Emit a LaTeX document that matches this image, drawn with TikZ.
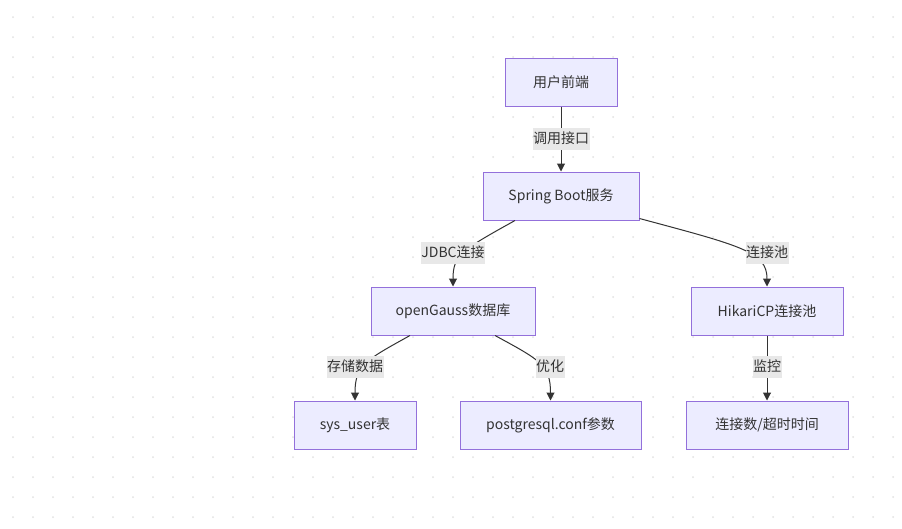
\documentclass[tikz,border=0pt]{standalone}
\usepackage{fontspec}
\setmainfont{Noto Sans CJK SC}
\usetikzlibrary{arrows.meta}
\definecolor{nodefill}{HTML}{ECECFF}
\definecolor{nodeline}{HTML}{9370DB}
\definecolor{txt}{HTML}{333333}
\definecolor{edgecol}{HTML}{333333}
\definecolor{lblfill}{HTML}{E8E8E8}
\definecolor{dotcol}{HTML}{E2E2E2}
\tikzset{
  box/.style={draw=nodeline, fill=nodefill, line width=1pt, minimum height=48pt, inner sep=0pt,
    text=txt, font=\fontsize{14}{16}\selectfont},
  lbl/.style={fill=lblfill, inner xsep=0.5pt, inner ysep=0pt, text height=15pt, text depth=7pt,
    text=txt, font=\fontsize{14}{16}\selectfont},
  edge/.style={draw=edgecol, line width=1pt, -{Triangle[length=8pt,width=8pt]}}
}
\begin{document}
\begin{tikzpicture}[x=1pt,y=-1pt]
\useasboundingbox (0,0) rectangle (902,528);
\fill[white] (0,0) rectangle (902,528);
\foreach \i in {0,...,44} {
  \foreach \j in {0,...,25} {
    \fill[dotcol] (13+20*\i,17+20*\j) circle (1pt);
  }
}
\node[box, minimum width=112pt] (user) at (561,82) {用户前端};
\node[box, minimum width=156pt] (sb) at (561,196) {Spring Boot服务};
\node[box, minimum width=164pt] (db) at (453,311) {openGauss数据库};
\node[box, minimum width=152pt] (hk) at (767,311) {HikariCP连接池};
\node[box, minimum width=122pt] (su) at (355,425) {sys\_user表};
\node[box, minimum width=181pt] (pg) at (550.5,425) {postgresql.conf参数};
\node[box, minimum width=162pt] (cs) at (767,425) {连接数/超时时间};

\draw[edge] (user.south) -- (sb.north);
\draw[edge] ([xshift=-46pt]sb.south) .. controls (462,250) and (453,255) .. (db.north);
\draw[edge] ([yshift=2pt]sb.south east) .. controls (742,246) and (767,252) .. (hk.north);
\draw[edge] ([xshift=-43pt]db.south) .. controls (366,360) and (355,365) .. (su.north);
\draw[edge] ([xshift=42pt]db.south) .. controls (540,360) and (550.5,365) .. (pg.north);
\draw[edge] (hk.south) -- (cs.north);

\node[lbl] (l1) at (561,139) {调用接口};
\node[lbl] (l2) at (453,253) {JDBC连接};
\node[lbl] (l3) at (767,253) {连接池};
\node[lbl] (l4) at (355,367) {存储数据};
\node[lbl] (l5) at (550,367) {优化};
\node[lbl] (l6) at (767,367) {监控};
\end{tikzpicture}
\end{document}
